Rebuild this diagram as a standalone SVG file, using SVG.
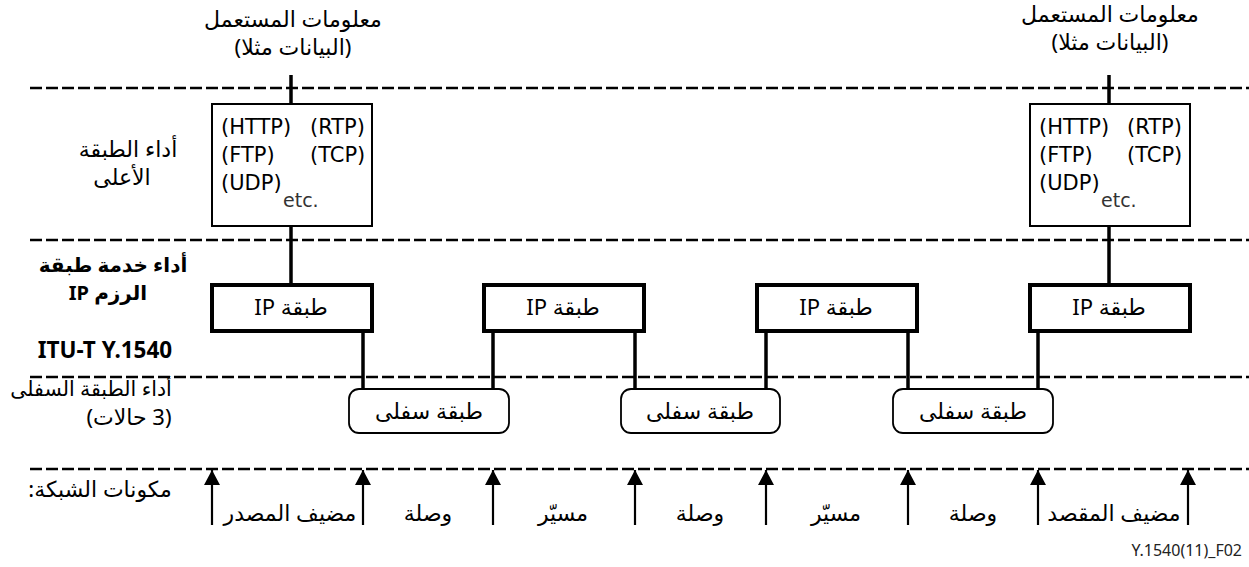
<svg xmlns="http://www.w3.org/2000/svg" width="1249" height="567" viewBox="0 0 1249 567">
<defs>
<style>
text{font-family:"Noto Sans","DejaVu Sans",sans-serif;fill:#000;}
.ar{font-size:22px;direction:rtl;unicode-bidi:embed;text-anchor:middle;}
.lat{font-family:"DejaVu Sans",sans-serif;font-size:21px;}
.b{font-size:20px;font-weight:bold;text-anchor:middle;}
.etc{font-family:"DejaVu Sans",sans-serif;font-size:19px;fill:#333;}
.dash{stroke:#000;stroke-width:2.6;stroke-dasharray:12 4;fill:none;}
.box{fill:#fff;stroke:#000;stroke-width:2;}
.ip{fill:#fff;stroke:#000;stroke-width:4;}
.low{fill:#fff;stroke:#000;stroke-width:1.8;}
.conn{stroke:#000;stroke-width:3.5;fill:none;}
.arr{stroke:#000;stroke-width:2.2;fill:none;marker-end:url(#ah);}
</style>
<marker id="ah" markerUnits="userSpaceOnUse" markerWidth="16" markerHeight="16" refX="15" refY="8" orient="auto">
<path d="M0,0 L15,8 L0,16 Z" fill="#000"/>
</marker>
</defs>
<rect width="1249" height="567" fill="#fff"/>
<g id="dashed-lines">
<line class="dash" x1="30" y1="88" x2="1249" y2="88"/>
<line class="dash" x1="30" y1="240" x2="1249" y2="240"/>
<line class="dash" x1="30" y1="377" x2="1249" y2="377"/>
<line class="dash" x1="30" y1="469" x2="1249" y2="469"/>
</g>
<g id="connectors">
<line class="conn" x1="291" y1="75" x2="291" y2="104"/>
<line class="conn" x1="291" y1="226" x2="291" y2="285"/>
<line class="conn" x1="1109" y1="75" x2="1109" y2="104"/>
<line class="conn" x1="1109" y1="226" x2="1109" y2="285"/>
<line class="conn" x1="363" y1="331" x2="363" y2="389"/>
<line class="conn" x1="493" y1="331" x2="493" y2="389"/>
<line class="conn" x1="635" y1="331" x2="635" y2="389"/>
<line class="conn" x1="766" y1="331" x2="766" y2="389"/>
<line class="conn" x1="908" y1="331" x2="908" y2="389"/>
<line class="conn" x1="1038" y1="331" x2="1038" y2="389"/>
<line class="arr" x1="212" y1="525" x2="212" y2="470"/>
<line class="arr" x1="363" y1="525" x2="363" y2="470"/>
<line class="arr" x1="493" y1="525" x2="493" y2="470"/>
<line class="arr" x1="635" y1="525" x2="635" y2="470"/>
<line class="arr" x1="766" y1="525" x2="766" y2="470"/>
<line class="arr" x1="908" y1="525" x2="908" y2="470"/>
<line class="arr" x1="1038" y1="525" x2="1038" y2="470"/>
<line class="arr" x1="1188" y1="525" x2="1188" y2="470"/>
</g>
<g id="user-info-left">
<text class="ar" x="293" y="27">معلومات المستعمل</text>
<text class="ar" x="293" y="55">(البيانات مثلا)</text>
</g>
<g id="user-info-right">
<text class="ar" x="1110" y="22">معلومات المستعمل</text>
<text class="ar" x="1110" y="50">(البيانات مثلا)</text>
</g>
<g id="upper-box-left">
<rect class="box" x="212" y="104" width="160" height="122"/>
<text class="lat" x="221" y="134">(HTTP)</text>
<text class="lat" x="310" y="134">(RTP)</text>
<text class="lat" x="221" y="162">(FTP)</text>
<text class="lat" x="310" y="162">(TCP)</text>
<text class="lat" x="221" y="190">(UDP)</text>
<text class="etc" x="283" y="207">etc.</text>
</g>
<g id="upper-box-right">
<rect class="box" x="1030" y="104" width="160" height="122"/>
<text class="lat" x="1039" y="134">(HTTP)</text>
<text class="lat" x="1127" y="134">(RTP)</text>
<text class="lat" x="1039" y="162">(FTP)</text>
<text class="lat" x="1127" y="162">(TCP)</text>
<text class="lat" x="1039" y="190">(UDP)</text>
<text class="etc" x="1101" y="207">etc.</text>
</g>
<g id="ip-1"><rect class="ip" x="212" y="285" width="160" height="46"/><text class="ar" x="291" y="315">طبقة IP</text></g>
<g id="ip-2"><rect class="ip" x="484" y="285" width="160" height="46"/><text class="ar" x="563" y="315">طبقة IP</text></g>
<g id="ip-3"><rect class="ip" x="757" y="285" width="160" height="46"/><text class="ar" x="836" y="315">طبقة IP</text></g>
<g id="ip-4"><rect class="ip" x="1030" y="285" width="160" height="46"/><text class="ar" x="1109" y="315">طبقة IP</text></g>
<g id="lower-1"><rect class="low" x="349" y="389" width="160" height="44" rx="10"/><text class="ar" x="429" y="419">طبقة سفلى</text></g>
<g id="lower-2"><rect class="low" x="621" y="389" width="159" height="44" rx="10"/><text class="ar" x="700" y="419">طبقة سفلى</text></g>
<g id="lower-3"><rect class="low" x="893" y="389" width="160" height="44" rx="10"/><text class="ar" x="973" y="419">طبقة سفلى</text></g>
<g id="row-labels">
<text class="ar" x="128" y="157">أداء الطبقة</text>
<text class="ar" x="122" y="185">الأعلى</text>
<text class="b" x="113" y="272" direction="rtl">أداء خدمة طبقة</text>
<text class="b" x="108" y="300" direction="rtl">الرزم IP</text>
<text class="b" x="105" y="358" style="font-size:22.5px">ITU-T Y.1540</text>
<text class="ar" x="91" y="396" style="font-size:20.5px">أداء الطبقة السفلى</text>
<text class="ar" x="129" y="425">(3 حالات)</text>
<text class="ar" x="100" y="497">مكونات الشبكة:</text>
</g>
<g id="component-labels">
<text class="ar" x="290" y="521">مضيف المصدر</text>
<text class="ar" x="428" y="521">وصلة</text>
<text class="ar" x="563" y="521">مسيّر</text>
<text class="ar" x="700" y="521">وصلة</text>
<text class="ar" x="836" y="521">مسيّر</text>
<text class="ar" x="973" y="521">وصلة</text>
<text class="ar" x="1114" y="521">مضيف المقصد</text>
</g>
<text x="1242" y="556" style="font-size:16px;text-anchor:end;fill:#222">Y.1540(11)_F02</text>
</svg>
